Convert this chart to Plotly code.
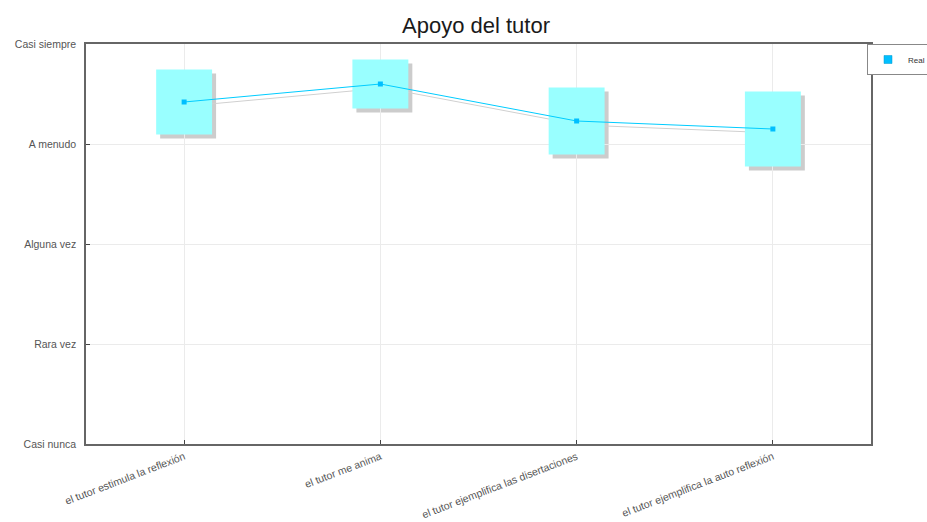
import plotly.graph_objects as go

categories = [
    "el tutor estimula la reflexión",
    "el tutor me anima",
    "el tutor ejemplifica las disertaciones",
    "el tutor ejemplifica la auto reflexión",
]
means = [4.42, 4.60, 4.23, 4.15]
sds = [0.325, 0.245, 0.335, 0.375]
level_values = [1, 2, 3, 4, 5]
level_labels = ["Casi nunca", "Rara vez", "Alguna vez", "A menudo", "Casi siempre"]
series_name = "Real"

FONT = "Liberation Sans, Arial, sans-serif"
BOX_COLOR = "#99ffff"
LINE_COLOR = "#00ccff"
MARK_COLOR = "#00bfff"
SHADOW = "#cccccc"
BAR_W = 0.285

bases = [m - s for m, s in zip(means, sds)]
heights = [2 * s for s in sds]

fig = go.Figure()

# shadow layer (drawn first, offset subplot)
fig.add_trace(go.Bar(x=categories, y=heights, base=bases, width=BAR_W,
                     marker=dict(color=SHADOW, line=dict(width=0)),
                     xaxis="x", yaxis="y", showlegend=False, hoverinfo="skip"))
fig.add_trace(go.Scatter(x=categories, y=means, mode="lines",
                         line=dict(color="#d0d0d0", width=1),
                         xaxis="x", yaxis="y", showlegend=False, hoverinfo="skip"))

# main layer
fig.add_trace(go.Bar(x=categories, y=heights, base=bases, width=BAR_W,
                     marker=dict(color=BOX_COLOR, line=dict(width=0)),
                     xaxis="x2", yaxis="y2", showlegend=False))
fig.add_trace(go.Scatter(x=categories, y=means, mode="lines+markers",
                         line=dict(color=LINE_COLOR, width=1),
                         marker=dict(symbol="square", size=5, color=MARK_COLOR),
                         xaxis="x2", yaxis="y2", showlegend=False))
fig.add_trace(go.Scatter(x=[None], y=[None], mode="markers", name=series_name,
                         marker=dict(symbol="square", size=8, color=MARK_COLOR,
                                     line=dict(color="#0099cc", width=0.5)),
                         xaxis="x2", yaxis="y2", showlegend=True))

W, H = 927, 522
ml, mr, mt, mb = 86, 52, 44, 74
pw = W - ml - mr
ph = H - mt - mb
dx, dy = 4, 4

hidden = dict(visible=False, showgrid=False, zeroline=False, automargin=False)
fig.update_layout(
    template="none",
    width=W, height=H,
    margin=dict(l=ml, r=mr, t=mt, b=mb, autoexpand=False),
    paper_bgcolor="white",
    plot_bgcolor="rgba(0,0,0,0)",
    barmode="overlay",
    font=dict(family=FONT, size=10, color="#555"),
    title=dict(text="Apoyo del tutor", xref="container", x=476 / W, xanchor="center",
               yref="container", y=1 - 25 / H, yanchor="middle",
               font=dict(family=FONT, size=22, color="#1a1a1a")),
    xaxis=dict(domain=[dx / pw, 1], range=[-0.5, 3.5], type="category",
               anchor="y", **hidden),
    yaxis=dict(domain=[0, (ph - dy) / ph], range=[1, 5], anchor="x", **hidden),
    xaxis2=dict(domain=[0, (pw - dx) / pw], range=[-0.5, 3.5], type="category",
                anchor="y2", automargin=False,
                showline=True, mirror=True, linecolor="#666", linewidth=1.5,
                ticks="inside", ticklen=4, tickcolor="#444",
                showgrid=True, gridcolor="#ebebeb", gridwidth=1, zeroline=False,
                tickangle=-21, ticklabelstandoff=1,
                tickfont=dict(family=FONT, size=10.5, color="#555")),
    yaxis2=dict(domain=[dy / ph, 1], range=[1, 5], anchor="x2", automargin=False,
                tickvals=level_values, ticktext=level_labels,
                showline=True, mirror=True, linecolor="#666", linewidth=1.5,
                ticks="inside", ticklen=4, tickcolor="#444",
                showgrid=True, gridcolor="#ebebeb", gridwidth=1, zeroline=False,
                ticklabelstandoff=6,
                tickfont=dict(family=FONT, size=10.5, color="#555")),
    legend=dict(x=(867 - ml) / pw, xanchor="left", y=1, yanchor="top",
                bordercolor="#888", borderwidth=1, bgcolor="white",
                font=dict(family=FONT, size=8, color="#333"),
                itemwidth=30, tracegroupgap=0),
)

fig.write_html("out.html", config={"displayModeBar": False},
               post_script="document.body.style.margin='0';document.body.style.padding='0';")
